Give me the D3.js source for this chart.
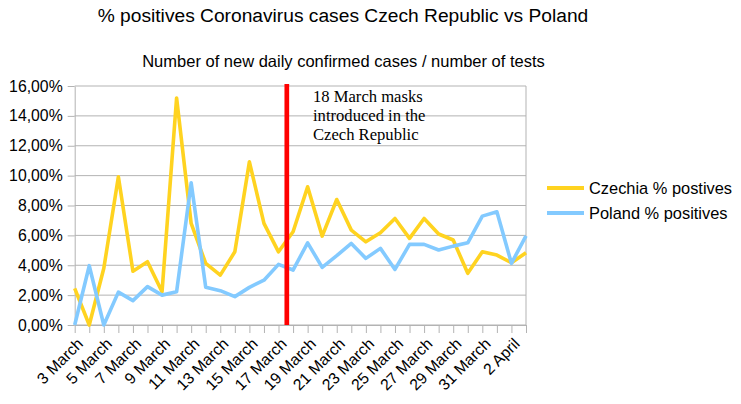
<!DOCTYPE html>
<html lang="en">
<head>
  <meta charset="UTF-8">
  <script src="https://cdn.jsdelivr.net/npm/d3@7"></script>
  <title>% positives Czech Republic vs Poland</title>
  <style>
    body { margin: 0; background: white; }
    text { font-family: 'Liberation Sans', Arial, sans-serif; }
    .grid line { stroke: #b3b3b3; }
    .axis .domain { stroke: #b3b3b3; }
    .axis .tick line { stroke: #b3b3b3; }
    .axis text { fill: black; font-size: 15.8px; }
    .note, .note tspan { font-family: 'Liberation Serif', 'Times New Roman', serif; font-size: 16.6px; }
  </style>
</head>
<body>
<script>
  // day labels (3 March .. 3 April)
  const days = ["3 March","4 March","5 March","6 March","7 March","8 March","9 March","10 March",
    "11 March","12 March","13 March","14 March","15 March","16 March","17 March","18 March",
    "19 March","20 March","21 March","22 March","23 March","24 March","25 March","26 March",
    "27 March","28 March","29 March","30 March","31 March","1 April","2 April","3 April"];

  // % positive tests
  const czechia = [2.45, 0.0, 3.8, 9.92, 3.6, 4.24, 2.23, 15.2, 6.8, 4.12, 3.34, 4.9, 10.92, 6.8, 4.9, 6.24,
    9.25, 5.95, 8.4, 6.35, 5.57, 6.17, 7.13, 5.8, 7.13, 6.09, 5.69, 3.46, 4.9, 4.68, 4.17, 4.84];
  const poland = [0.0, 3.97, 0.0, 2.2, 1.63, 2.57, 2.0, 2.23, 9.52, 2.52, 2.3, 1.9, 2.52, 3.0, 4.06, 3.68,
    5.5, 3.86, 4.64, 5.46, 4.46, 5.13, 3.72, 5.4, 5.4, 5.02, 5.28, 5.5, 7.29, 7.58, 4.13, 5.97];

  const yTicks = [0, 2, 4, 6, 8, 10, 12, 14, 16];
  const seriesNames = ["Czechia % postives", "Poland % positives"];
  const seriesColors = ["#ffd320", "#83caff"];
  // masks introduced between 17 and 18 March (position in day index units)
  const masksAt = 14.57;
  const noteLines = ["18 March masks", "introduced in the", "Czech Republic"];

  const width = 741, height = 404;
  const plotLeft = 74.7, plotRight = 526, plotTop = 86, plotBottom = 325;

  const x = d3.scaleLinear().domain([0, days.length - 1]).range([plotLeft, plotRight]);
  const y = d3.scaleLinear().domain([0, 16]).range([plotBottom, plotTop]);

  const svg = d3.select('body').append('svg').attr('width', width).attr('height', height);

  svg.append('text').attr('x', 343).attr('y', 22).attr('text-anchor', 'middle')
    .style('font-size', '19.2px').text('% positives Coronavirus cases Czech Republic vs Poland');
  svg.append('text').attr('x', 343.5).attr('y', 67).attr('text-anchor', 'middle')
    .style('font-size', '16.5px').text('Number of new daily confirmed cases / number of tests');

  // horizontal grid
  svg.append('g').attr('class', 'grid').selectAll('line').data(yTicks).enter().append('line')
    .attr('x1', plotLeft).attr('x2', plotRight).attr('y1', d => y(d)).attr('y2', d => y(d));
  svg.append('line').attr('x1', plotRight).attr('x2', plotRight).attr('y1', plotTop).attr('y2', plotBottom)
    .attr('stroke', '#b3b3b3');

  const fmt = d => d.toFixed(2).replace('.', ',') + '%';
  svg.append('g').attr('class', 'axis').attr('transform', `translate(${plotLeft},0)`)
    .call(d3.axisLeft(y).tickValues(yTicks).tickFormat(fmt).tickSize(7).tickPadding(5).tickSizeOuter(0));

  const xAxis = svg.append('g').attr('class', 'axis').attr('transform', `translate(0,${plotBottom})`)
    .call(d3.axisBottom(x).tickValues(d3.range(days.length)).tickFormat(i => i % 2 === 0 ? days[i] : '')
      .tickSize(8).tickSizeOuter(0));
  xAxis.selectAll('.tick text')
    .attr('text-anchor', 'end')
    .attr('dy', 0)
    .attr('transform', 'translate(1,12) rotate(-45)');

  const line = d3.line().x((d, i) => x(i)).y(d => y(d)).curve(d3.curveLinear);

  [czechia, poland].forEach((s, k) => {
    svg.append('path').datum(s).attr('d', line).attr('fill', 'none')
      .attr('stroke', seriesColors[k]).attr('stroke-width', 3.6).attr('stroke-linejoin', 'round');
  });

  // masks marker
  svg.append('line').attr('x1', x(masksAt)).attr('x2', x(masksAt)).attr('y1', plotTop - 2).attr('y2', plotBottom)
    .attr('stroke', '#ff0000').attr('stroke-width', 4.7);
  svg.append('text').attr('class', 'note').attr('x', 313).attr('y', 102)
    .selectAll('tspan').data(noteLines).enter().append('tspan')
    .attr('x', 313).attr('dy', (d, i) => i === 0 ? 0 : 19).text(d => d);

  // legend
  const legend = svg.append('g').selectAll('g').data(seriesNames).enter().append('g')
    .attr('transform', (d, i) => `translate(547,${188 + i * 25})`);
  legend.append('line').attr('x1', 0).attr('x2', 37)
    .attr('stroke', (d, i) => seriesColors[i]).attr('stroke-width', 4);
  legend.append('text').attr('x', 42).attr('y', 6).style('font-size', '16.4px').text(d => d);
</script>
</body>
</html>
